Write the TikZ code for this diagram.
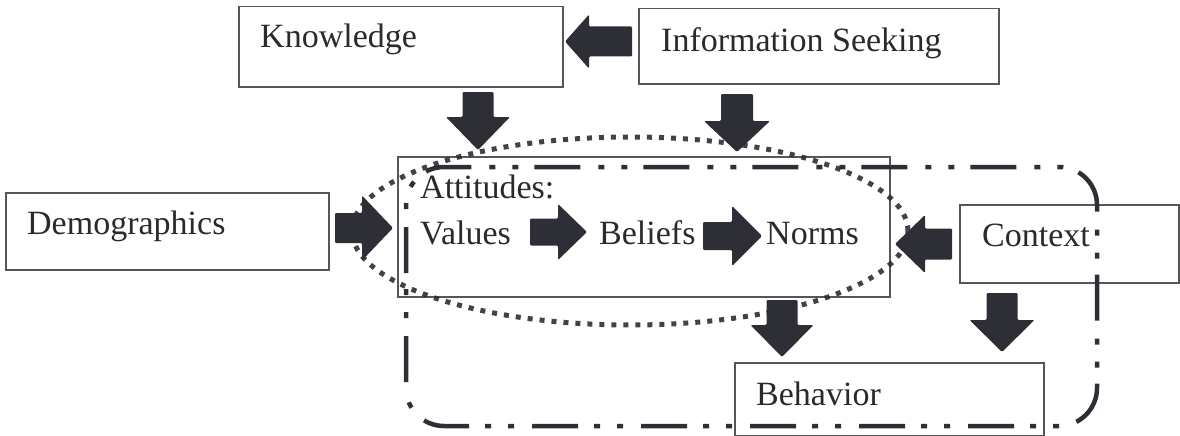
\documentclass[tikz,border=0pt]{standalone}
\usepackage{fontspec}
\setmainfont{Liberation Serif}
\usetikzlibrary{calc}
\definecolor{ink}{HTML}{2E2F36}
\definecolor{frame}{HTML}{55555A}
\definecolor{txt}{HTML}{2A2A2E}
\begin{document}
\begin{tikzpicture}[x=1pt,y=-1pt,
  box/.style={draw=frame, line width=1.5pt, inner sep=0pt, anchor=north west},
  lbl/.style={font=\fontsize{34}{40}\selectfont, text=txt, inner sep=0pt, anchor=base west},
  % filled block arrow: #1 shaft half-width, #2 head half-width, #3 head length
  blockarrow/.style n args={3}{fill=ink, draw=none, rounded corners=1.2pt,
    to path={
      let \p1=(\tikztostart), \p2=(\tikztotarget),
          \n1={atan2(\y2-\y1,\x2-\x1)}, \n2={veclen(\x2-\x1,\y2-\y1)}
      in (\p1) ++(\n1+90:#1) -- ++(\n1:\n2-#3) -- ++(\n1+90:#2-#1) -- (\p2)
         -- ($(\p2)+(\n1+180:#3)+(\n1-90:#2)$) -- ++(\n1+90:#2-#1)
         -- ($(\p1)+(\n1-90:#1)$) -- cycle}},
  dashdot/.style={draw=ink, line width=4.5pt, rounded corners=38pt,
    dash pattern=on 46pt off 18pt on 6pt off 17pt on 6pt off 16pt, dash phase=105pt},
  dotted ring/.style={draw=ink, draw opacity=0.9, line width=5pt,
    dash pattern=on 5pt off 7pt}
]
\useasboundingbox (0,0) rectangle (1180,436);

% boxes
\node[box, minimum width=324pt, minimum height=80pt] (know) at (238,6) {};
\node[box, minimum width=360pt, minimum height=75pt] (info) at (638,8) {};
\node[box, minimum width=323pt, minimum height=77pt] (demo) at (5,192) {};
\node[box, minimum width=492pt, minimum height=140pt] (att) at (397,156) {};
\node[box, minimum width=219pt, minimum height=78pt] (ctx) at (959,204) {};
\node[box, minimum width=309pt, minimum height=73pt] (beh) at (734,362) {};

% labels
\node[lbl] (knowT) at (260,48) {Knowledge};
\node[lbl] (infoT) at (661,52) {Information Seeking};
\node[lbl] (demoT) at (27,234) {Demographics};
\node[lbl] (attT) at (420,198) {Attitudes:};
\node[lbl] (val) at (420,244) {Values};
\node[lbl] (bel) at (599,244) {Beliefs};
\node[lbl] (nor) at (766,244) {Norms};
\node[lbl] (ctxT) at (982,246) {Context};
\node[lbl] (behT) at (756,405) {Behavior};

% region grouping attitudes, context and behavior (clockwise from lower left)
\path[dashdot] (406,386) -- (406,167) -- (1097,167) -- (1097,426) -- (406,426) -- (406,386);

% arrow end points
\coordinate (infoL) at (632,41.5);  \coordinate (knowR) at (565,41.5);
\coordinate (knowB) at (478,92);    \coordinate (attK) at (478,150);
\coordinate (infoB) at (737,94);    \coordinate (attI) at (737,152);
\coordinate (demoR) at (335,228);   \coordinate (attL) at (393,228);
\coordinate (valR) at (530,232);    \coordinate (belL) at (587,232);
\coordinate (belR) at (703,236);    \coordinate (norL) at (762,236);
\coordinate (ctxL) at (952,244);    \coordinate (attR) at (895,244);
\coordinate (attB) at (782,300);    \coordinate (behA) at (782,357);
\coordinate (ctxB) at (1002,293);   \coordinate (behC) at (1002,352);

\path[blockarrow={15pt}{27pt}{24pt}] (infoL) to (knowR);
\path[blockarrow={15.5pt}{32pt}{33pt}] (knowB) to (attK);
\path[blockarrow={16pt}{33pt}{31pt}] (infoB) to (attI);
\path[blockarrow={15pt}{32.5pt}{31pt}] (demoR) to (attL);
\path[blockarrow={13.5pt}{28pt}{29pt}] (valR) to (belL);
\path[blockarrow={14pt}{30pt}{30pt}] (belR) to (norL);
\path[blockarrow={15.5pt}{29pt}{30pt}] (ctxL) to (attR);
\path[blockarrow={15.5pt}{31.5pt}{32pt}] (attB) to (behA);
\path[blockarrow={15.5pt}{32.5pt}{32pt}] (ctxB) to (behC);

% dotted ring round the attitudes
\path[dotted ring] (630,231) ellipse [x radius=278, y radius=94];
\end{tikzpicture}
\end{document}
